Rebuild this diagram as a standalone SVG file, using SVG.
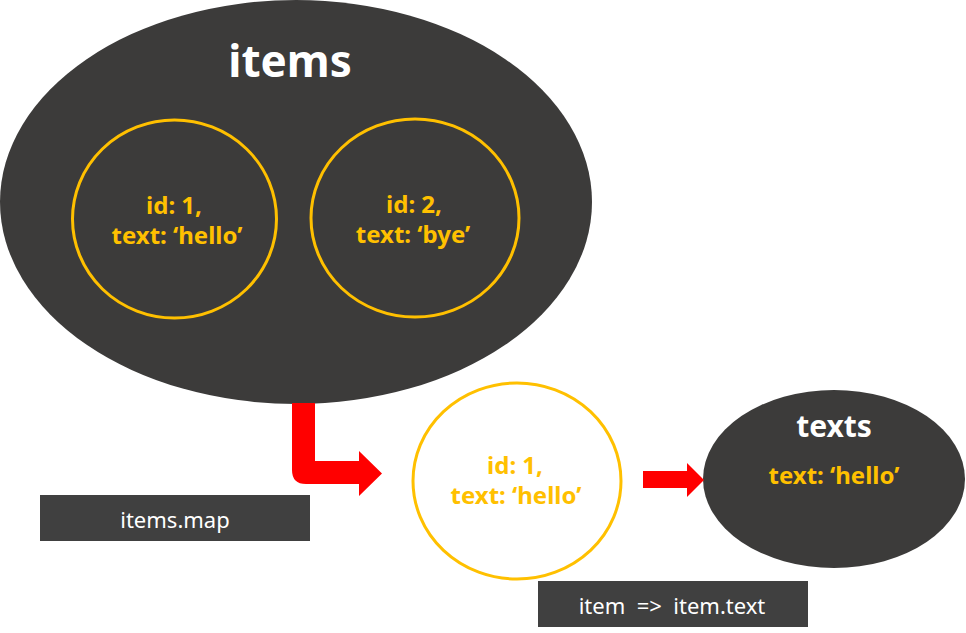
<svg xmlns="http://www.w3.org/2000/svg" width="966" height="633" viewBox="0 0 966 633">
<style>
.dark{fill:#3c3b3a}
.ring{fill:none;stroke:#FFC000;stroke-width:3}
.y{fill:#FFC000;font-family:"Noto Sans","Open Sans",sans-serif;font-weight:bold;font-size:24px;text-anchor:middle}
.w{fill:#ffffff;font-family:"Noto Sans","Open Sans",sans-serif;font-weight:bold;text-anchor:middle}
.box{fill:#404040}
.bt{fill:#ffffff;font-family:"Noto Sans","Open Sans",sans-serif;font-size:22px;text-anchor:middle}
.arrow{fill:#ff0000}
</style>
<rect width="966" height="633" fill="#ffffff"/>
<g id="items">
<ellipse class="dark" cx="296" cy="202" rx="296" ry="202"/>
<text class="w" x="290" y="77" font-size="44">items</text>
<g id="item1">
<ellipse class="ring" cx="174.5" cy="219" rx="102" ry="99"/>
<text class="y" x="174" y="214">id: 1,</text>
<text class="y" x="177" y="244">text: ‘hello’</text>
</g>
<g id="item2">
<ellipse class="ring" cx="415" cy="218" rx="104" ry="99"/>
<text class="y" x="414" y="213">id: 2,</text>
<text class="y" x="413" y="243">text: ‘bye’</text>
</g>
</g>
<g id="mapped">
<ellipse fill="#ffffff" stroke="#FFC000" stroke-width="3" cx="517" cy="481" rx="104" ry="98"/>
<text class="y" x="515" y="474">id: 1,</text>
<text class="y" x="516" y="504">text: ‘hello’</text>
</g>
<g id="texts">
<ellipse class="dark" cx="834" cy="479" rx="131" ry="89"/>
<text class="w" x="834" y="437" font-size="30">texts</text>
<text class="y" x="834" y="484">text: ‘hello’</text>
</g>
<g id="label-map">
<rect class="box" x="40" y="495" width="270" height="46"/>
<text class="bt" x="175" y="528">items.map</text>
</g>
<g id="label-fn">
<rect class="box" x="538" y="581" width="270" height="46"/>
<text class="bt" x="672" y="614" xml:space="preserve">item  =&gt;  item.text</text>
</g>
<g id="connectors">
<path class="arrow" d="M292,403 H315 V461 H359 V451 L382,473.5 L359,496 V484 H306 Q292,484 292,470 Z"/>
<path class="arrow" d="M643,471 H687 V463 L704,480 L687,497 V488 H643 Z"/>
</g>
</svg>
